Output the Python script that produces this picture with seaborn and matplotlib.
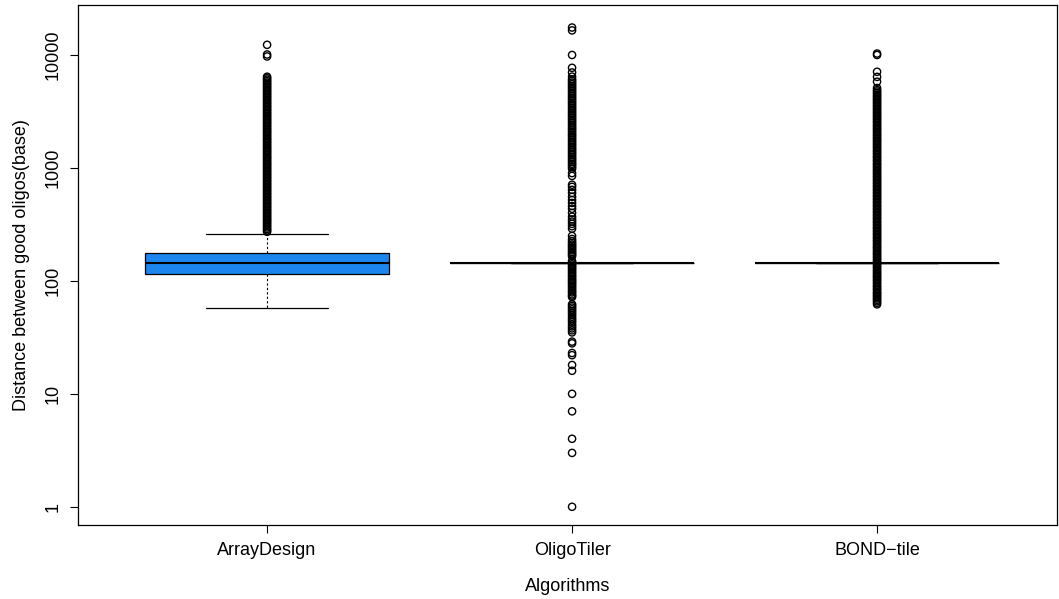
import numpy as np
import pandas as pd
import matplotlib
matplotlib.use("Agg")
import matplotlib.pyplot as plt
import seaborn as sns

# ---------------- data ----------------
categories = ["ArrayDesign", "OligoTiler", "BOND\u2212tile"]

# five-number summaries (min, q1, median, q3, max) of the boxes
arraydesign_box = [58, 115, 145, 175, 262]
oligotiler_box = [145, 145, 145, 145, 145]
bondtile_box = [145, 145, 145, 145, 145]

arraydesign_out = [12300, 10100, 9700,
                   6420, 6230, 6050, 5870, 5700, 5540, 5380, 5220, 5070, 4920,
                   4780, 4640, 4500, 4370, 4240, 4120, 4000, 3880, 3770, 3660,
                   3550, 3450, 3350, 3250, 3160, 3060, 2980, 2890, 2800, 2720,
                   2640, 2570, 2490, 2420, 2350, 2280, 2210, 2150, 2090, 2030,
                   1970, 1910, 1850, 1800, 1750, 1700, 1650, 1600, 1550, 1510,
                   1460, 1420, 1380, 1340, 1300, 1260, 1230, 1190, 1160, 1120,
                   1090, 1060, 1030, 998, 969, 941, 914, 887, 861, 836, 812,
                   788, 765, 743, 721, 700, 680, 660, 641, 622, 604, 587, 570,
                   553, 537, 521, 506, 491, 477, 463, 450, 437, 424, 412, 400,
                   388, 377, 366, 355, 345, 335, 325, 315, 306, 297, 288, 280,
                   272]

oligotiler_out = [17500, 16500, 10000, 7700, 7000, 6430,
                  6100, 5900, 5700, 5510, 5330, 5150, 4970, 4800, 4640, 4490,
                  4330, 4190, 4050, 3910, 3780, 3650, 3530, 3410, 3290, 3180,
                  3070, 2970, 2870, 2770, 2680, 2590, 2500, 2410, 2330, 2250,
                  2180, 2100, 2030, 1960, 1900, 1830, 1770, 1710, 1650, 1600,
                  1540, 1490, 1440, 1390, 1340, 1300, 1250, 1210, 1170, 1130,
                  1090, 1060, 1020, 985,
                  900, 850, 710, 680, 640, 600, 555, 520, 490, 460, 435, 400,
                  370, 350, 335, 320, 305, 290, 250, 235, 225,
                  217, 210, 204, 198, 192, 186, 180, 175, 170, 165,
                  150, 145, 140, 136, 132, 128, 124, 120, 116, 112, 109, 105,
                  102, 99, 96, 93, 90, 87, 84, 81, 79, 76, 74, 72,
                  62, 60, 58, 56, 54, 52, 50, 48, 46, 44.5, 43, 41, 39.5, 38,
                  36.5, 35, 29, 28, 23, 22, 18, 16, 10, 7, 4, 3, 1]

bondtile_out = [10300, 10000, 7100, 6400, 5800, 5100,
                4890, 4750, 4610, 4470, 4340, 4220, 4090, 3970, 3860, 3750,
                3640, 3530, 3430, 3330, 3230, 3140, 3050, 2960, 2870, 2790,
                2710, 2630, 2550, 2480, 2400, 2330, 2270, 2200, 2140, 2070,
                2010, 1950, 1900, 1840, 1790, 1740, 1690, 1640, 1590, 1540,
                1500, 1450, 1410, 1370, 1330, 1290, 1250, 1220, 1180, 1150,
                1110, 1080, 1050, 1020, 990, 961, 933, 906, 879, 854, 829,
                805, 781, 759, 736, 715, 694, 674, 654, 635, 617, 599, 581,
                564, 548, 532, 516, 501, 487, 472, 459, 445, 432, 420, 408,
                396, 384, 373, 362, 352, 341, 331, 322, 312, 303, 294, 286,
                277, 269, 261, 254, 246, 239, 232, 226, 219, 213, 206, 200,
                195, 189, 183, 178, 173, 168, 163, 158, 154, 149, 145, 141,
                137, 133, 129, 125, 121, 118, 114, 111, 108, 105, 102, 99, 96,
                93, 90, 88, 85, 83, 80, 78, 76, 74, 72, 70, 68, 66, 64, 62]

ytick_values = [1, 10, 100, 1000, 10000]
ytick_labels = ["1", "10", "100", "1000", "10000"]

x_label = "Algorithms"
y_label = "Distance between good oligos(base)"
box_color = "#1C86EE"

# ---------------- tables ----------------
core_df = pd.DataFrame({
    "algorithm": [categories[0]] * len(arraydesign_box)
                 + [categories[1]] * len(oligotiler_box)
                 + [categories[2]] * len(bondtile_box),
    "distance": arraydesign_box + oligotiler_box + bondtile_box,
})
out_df = pd.DataFrame({
    "algorithm": [categories[0]] * len(arraydesign_out)
                 + [categories[1]] * len(oligotiler_out)
                 + [categories[2]] * len(bondtile_out),
    "distance": arraydesign_out + oligotiler_out + bondtile_out,
})

# ---------------- plotting ----------------
sns.set_style("white")
plt.rcParams["font.family"] = ["Liberation Sans", "DejaVu Sans"]
plt.rcParams["text.color"] = "black"
plt.rcParams["axes.labelcolor"] = "black"
plt.rcParams["xtick.color"] = "black"
plt.rcParams["ytick.color"] = "black"

W, H = 1059, 599
fig = plt.figure(figsize=(W / 100, H / 100), dpi=100)
ax = fig.add_axes([78 / W, 1 - 525 / H, (1057 - 78) / W, (525 - 5) / H])

sns.boxplot(data=core_df, x="algorithm", y="distance", order=categories,
            width=0.8, color=box_color, saturation=1, linecolor="black",
            linewidth=0.9, whis=(0, 100), showfliers=False,
            whiskerprops=dict(linestyle=(0, (2, 2)), linewidth=0.8),
            medianprops=dict(linewidth=1.5, color="black"),
            ax=ax)

sns.stripplot(data=out_df, x="algorithm", y="distance", order=categories,
              jitter=False, size=5.2, marker="o", color="black",
              linewidth=1.0, ax=ax)
for coll in ax.collections:
    coll.set_facecolor("none")
    coll.set_edgecolor("black")
    coll.set_linewidth(1.0)

ax.set_yscale("log")
ax.set_ylim(0.69, 27700)
ax.set_xlim(-0.62, 2.59)
ax.set_yticks(ytick_values)
ax.set_yticklabels(ytick_labels, rotation=90, va="center")
ax.yaxis.set_minor_locator(matplotlib.ticker.NullLocator())
ax.set_xticks(range(len(categories)))
ax.set_xticklabels(categories)

ax.tick_params(axis="both", which="major", direction="out", length=6,
               width=0.8, color="black", labelsize=13, pad=6,
               left=True, bottom=True, labelcolor="black")
ax.set_xlabel(x_label, fontsize=13, labelpad=14, color="black")
ax.set_ylabel(y_label, fontsize=13, labelpad=10, color="black")

for s in ax.spines.values():
    s.set_visible(True)
    s.set_color("black")
    s.set_linewidth(0.9)

fig.savefig("out.png", dpi=100, facecolor="white")
